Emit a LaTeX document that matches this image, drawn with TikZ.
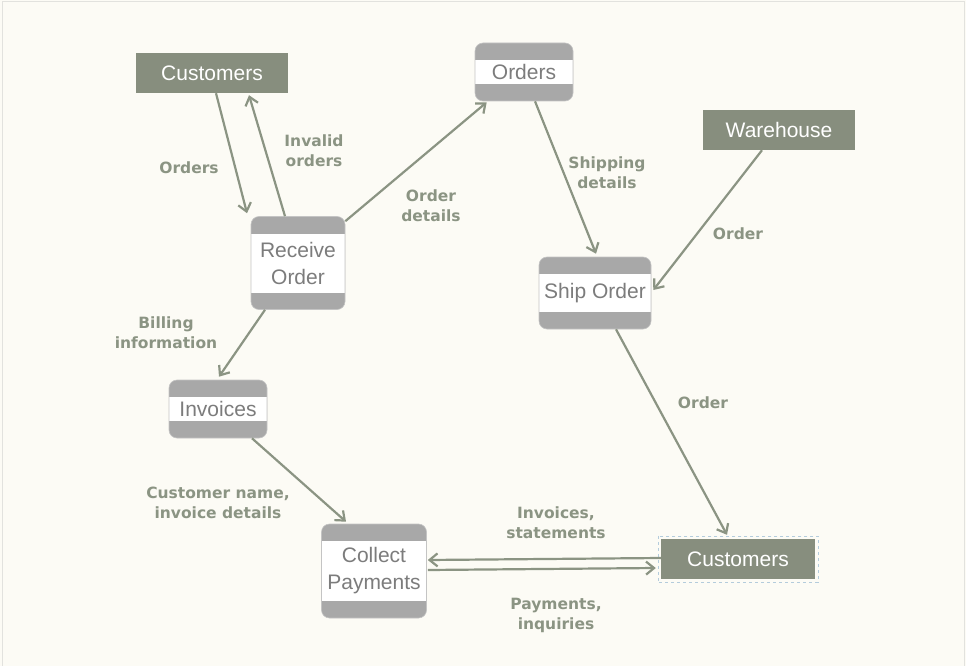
\documentclass[tikz,border=0pt]{standalone}
\usepackage{fontspec}
\usepackage{tikz}
\usetikzlibrary{arrows.meta}
\newfontfamily\nodefont{Liberation Sans}
\newfontfamily\labelfont{DejaVu Sans}
\definecolor{paper}{HTML}{FCFBF5}
\definecolor{frameline}{HTML}{E2E2DE}
\definecolor{entityfill}{HTML}{878E7E}
\definecolor{bandgray}{HTML}{A8A8A8}
\definecolor{boxedge}{HTML}{C4C4C4}
\definecolor{proctext}{HTML}{7C7C7C}
\definecolor{flowgreen}{HTML}{8B9483}
\definecolor{selectblue}{HTML}{B4CCDC}

\begin{document}
\begin{tikzpicture}[x=1pt,y=-1pt,
   entity/.style={fill=entityfill,text=white,minimum width=152pt,minimum height=40pt,
      inner sep=0pt,font=\nodefont\fontsize{21}{27}\selectfont},
   procbox/.style={rounded corners=8pt,fill=bandgray,draw=boxedge,line width=0.6pt,
      text=proctext,align=center,inner sep=0pt,font=\nodefont\fontsize{21}{27}\selectfont,
      path picture={\fill[white,sharp corners] ([yshift=-17pt]path picture bounding box.north west)
         rectangle ([yshift=17pt]path picture bounding box.south east);}},
   flowlabel/.style={text=flowgreen,align=center,inner sep=0pt,
      font=\labelfont\bfseries\fontsize{15.5}{20}\selectfont},
   flow/.style={draw=flowgreen,line width=2.2pt,-{Straight Barb[length=8pt,width=13pt]}}]
\useasboundingbox (0,0) rectangle (966,666);
\fill[paper] (0,0) rectangle (966,666);
\draw[frameline,line width=1pt] (2,666) -- (2,2) -- (964,2) -- (964,666);

% external entities
\node[entity] (cust1) at (212,73) {Customers};
\node[entity] (ware) at (779,130) {Warehouse};
\node[entity,minimum width=154pt] (cust2) at (738,559) {Customers};
\draw[selectblue,dashed,line width=0.6pt] ([shift={(-3pt,3pt)}]cust2.north west)
   rectangle ([shift={(3pt,-3pt)}]cust2.south east);

% processes and stores
\node[procbox,minimum width=94pt,minimum height=93pt] (recv) at (298,263) {Receive\\Order};
\node[procbox,minimum width=98pt,minimum height=58pt] (ord) at (524,72) {Orders};
\node[procbox,minimum width=112pt,minimum height=72pt] (ship) at (595,293) {Ship Order};
\node[procbox,minimum width=98pt,minimum height=58pt] (inv) at (218,409) {Invoices};
\node[procbox,minimum width=105pt,minimum height=94pt] (coll) at (374,571) {Collect\\Payments};

% flows
\draw[flow] ([xshift=4pt]cust1.south) -- ([xshift=-51pt,yshift=3pt]recv.north);
\draw[flow] ([xshift=-13pt]recv.north) -- ([xshift=37pt,yshift=-2pt]cust1.south);
\draw[flow] ([yshift=-5pt]recv.north east) -- ([xshift=12pt,yshift=-1pt]ord.south west);
\draw[flow] ([xshift=11pt]ord.south) -- ([xshift=1pt,yshift=3pt]ship.north);
\draw[flow] ([xshift=-17pt]ware.south) -- ([xshift=2pt,yshift=3pt]ship.east);
\draw[flow] ([xshift=21pt]ship.south) -- ([xshift=-11pt,yshift=4pt]cust2.north);
\draw[flow] ([xshift=-33pt]recv.south) -- ([xshift=1pt,yshift=3pt]inv.north);
\draw[flow] ([xshift=34pt]inv.south) -- ([xshift=-28pt,yshift=2pt]coll.north);
\draw[flow] ([yshift=1pt]cust2.west) -- ([xshift=1pt,yshift=11pt]coll.east);
\draw[flow] ([xshift=1pt,yshift=1pt]coll.east) -- ([xshift=-5pt,yshift=-9pt]cust2.west);

% flow labels
\node[flowlabel] (lorders) at (189,168) {Orders};
\node[flowlabel] (linvalid) at (314,151) {Invalid\\orders};
\node[flowlabel] (ldetails) at (431,206) {Order\\details};
\node[flowlabel] (lshipping) at (607,173) {Shipping\\details};
\node[flowlabel] (lware) at (738,234) {Order};
\node[flowlabel] (lship) at (703,403) {Order};
\node[flowlabel] (lbilling) at (166,333) {Billing\\information};
\node[flowlabel] (lcustname) at (218,503) {Customer name,\\invoice details};
\node[flowlabel] (lstatements) at (556,523) {Invoices,\\statements};
\node[flowlabel] (lpayments) at (556,615) {Payments,\\inquiries};
\end{tikzpicture}
\end{document}
